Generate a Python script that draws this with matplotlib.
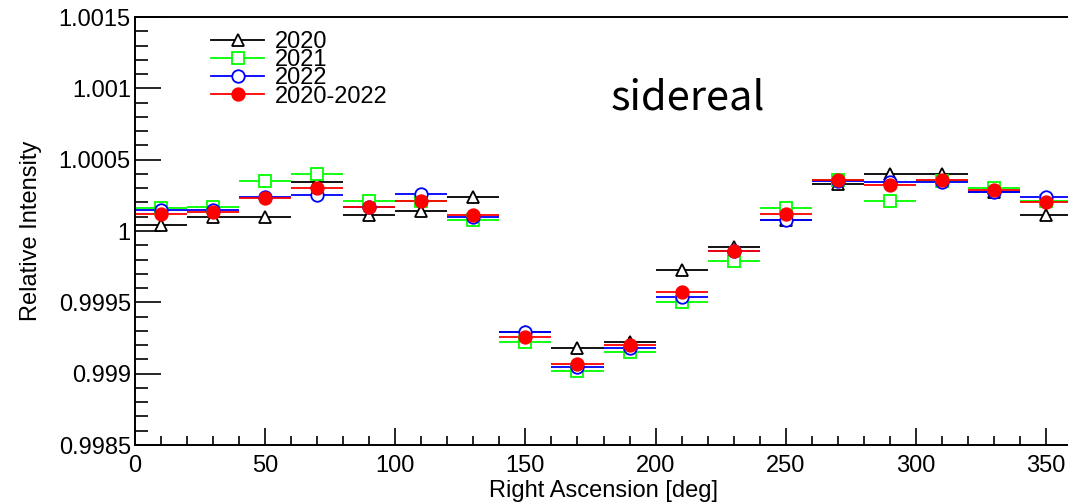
import matplotlib
matplotlib.use('Agg')
import matplotlib.pyplot as plt
from matplotlib.lines import Line2D
from matplotlib.ticker import MultipleLocator, FuncFormatter

ra = [10, 30, 50, 70, 90, 110, 130, 150, 170, 190, 210, 230, 250, 270, 290, 310, 330, 350]
ra_halfwidth = 10

y2020 = [1.00004, 1.0001, 1.0001, 1.00034, 1.00011, 1.00014, 1.00024, 0.99929, 0.99918,
         0.99922, 0.99973, 0.99989, 1.000075, 1.00033, 1.0004, 1.0004, 1.00027, 1.00011]
y2021 = [1.00016, 1.00017, 1.00035, 1.0004, 1.00021, 1.00021, 1.00008, 0.99922, 0.99902,
         0.99915, 0.9995, 0.99979, 1.00016, 1.00036, 1.00021, 1.00035, 1.0003, 1.00021]
y2022 = [1.00015, 1.00015, 1.000235, 1.00025, 1.00017, 1.00026, 1.0001, 0.99929, 0.99905,
         0.99918, 0.99954, 0.99986, 1.000075, 1.00035, 1.00034, 1.00034, 1.00027, 1.00024]
yall = [1.00012, 1.00013, 1.00023, 1.0003, 1.00017, 1.00021, 1.00011, 0.99926, 0.99907,
        0.9992, 0.99957, 0.99986, 1.00012, 1.00036, 1.00032, 1.00036, 1.00029, 1.0002]
err_year = 0.00003
err_all = 0.00002

labels = ['2020', '2021', '2022', '2020-2022']

plt.rcParams['font.family'] = ['Liberation Sans', 'DejaVu Sans']

fig = plt.figure(figsize=(10.68, 5.04), dpi=100)
ax = fig.add_axes([135 / 1068, 59 / 504, 937 / 1068, 428 / 504])

series = [
    (y2020, err_year, '^', 'black', 'white'),
    (y2021, err_year, 's', '#00ff00', 'white'),
    (y2022, err_year, 'o', '#0000ff', 'white'),
    (yall, err_all, 'o', '#ff0000', '#ff0000'),
]
handles = []
for (vals, err, mk, col, fc) in series:
    ax.errorbar(ra, vals, xerr=ra_halfwidth, yerr=err, fmt=mk, color=col, mec=col, mfc=fc,
                ms=9, mew=1.3, elinewidth=1.3, capsize=0)
    handles.append(Line2D([], [], color=col, marker=mk, mec=col, mfc=fc, ms=9, mew=1.3, lw=1.3))

ax.set_xlim(0, 360)
ax.set_ylim(0.9985, 1.0015)
ax.xaxis.set_major_locator(MultipleLocator(50))
ax.xaxis.set_minor_locator(MultipleLocator(10))
ax.yaxis.set_major_locator(MultipleLocator(0.0005))
ax.yaxis.set_minor_locator(MultipleLocator(0.0001))
ax.yaxis.set_major_formatter(FuncFormatter(lambda v, p: '%g' % round(v, 6)))

ax.tick_params(axis='both', which='both', direction='in', labelsize=17, width=1.2)
ax.tick_params(axis='y', which='major', length=19, pad=3)
ax.tick_params(axis='y', which='minor', length=9.5)
ax.tick_params(axis='x', which='major', length=12, pad=7)
ax.tick_params(axis='x', which='minor', length=6.5)
for s in ax.spines.values():
    s.set_linewidth(1.4)
ax.spines['right'].set_visible(False)

ax.set_xlabel('Right Ascension [deg]', fontsize=17, labelpad=2)
ax.set_ylabel('Relative Intensity', fontsize=17, labelpad=12)

ax.legend(handles, labels, loc='upper left', bbox_to_anchor=(211 / 1068, 1 - 31 / 504),
          bbox_transform=fig.transFigure, frameon=False, fontsize=17,
          labelspacing=-0.16, handlelength=2.25, handletextpad=0.45, borderaxespad=0,
          borderpad=0)

fig.text(688 / 1068, 1 - 109 / 504, 'sidereal', fontsize=30, ha='center', va='baseline',
         family=['Noto Sans CJK SC', 'DejaVu Sans'])

fig.savefig('out.png', dpi=100)
